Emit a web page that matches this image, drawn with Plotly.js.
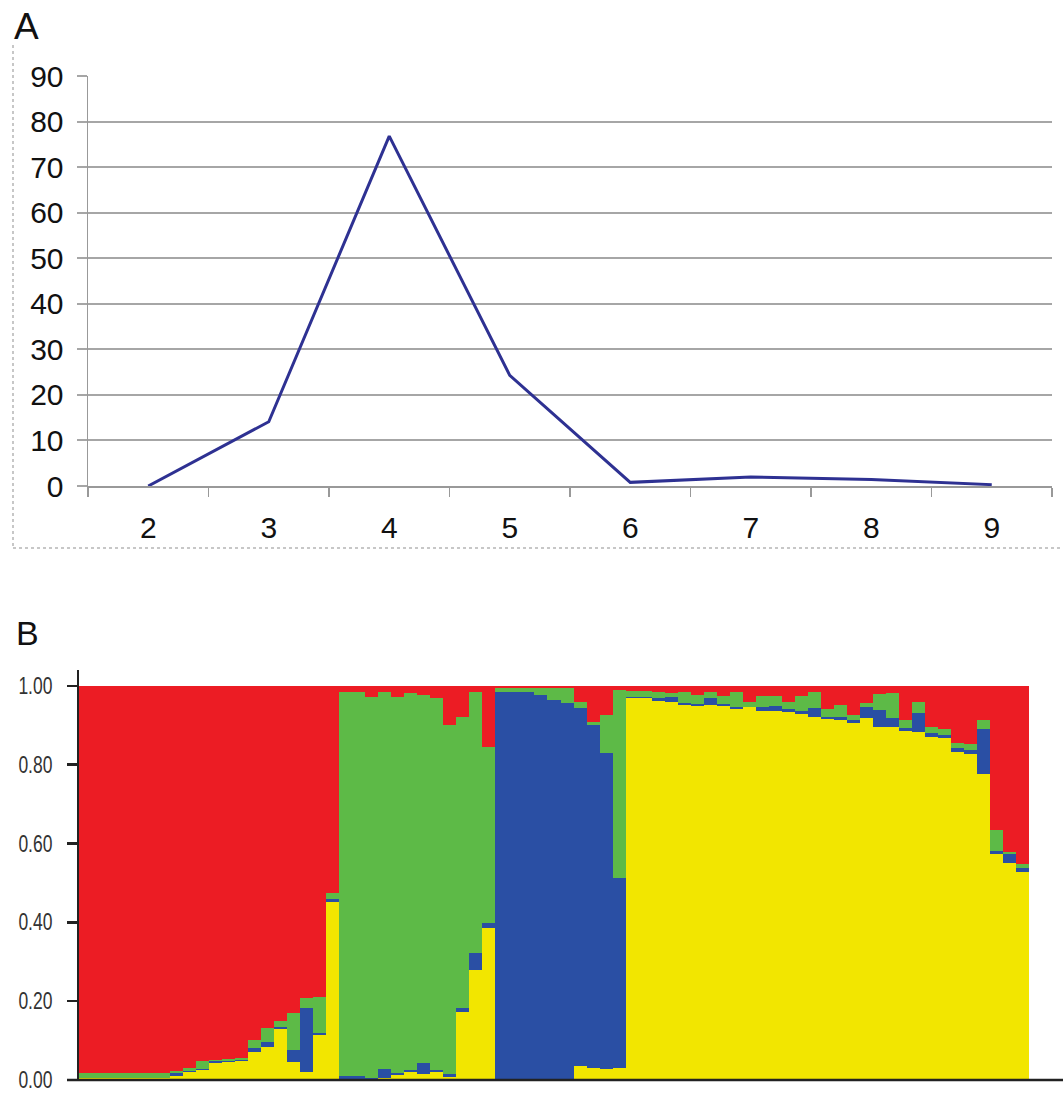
<!DOCTYPE html>
<html>
<head>
<meta charset="utf-8">
<script src="https://cdn.plot.ly/plotly-3.0.1.min.js"></script>
<style>html,body{margin:0;padding:0;background:#fff;}#chart{width:1063px;height:1093px;}</style>
</head>
<body>
<div id="chart"></div>
<script>
// ---- Panel A data ----
var kValues = ['2', '3', '4', '5', '6', '7', '8', '9'];
var deltaK = [0, 14.1, 76.8, 24.3, 0.8, 2.0, 1.4, 0.3];
var aYTicks = [0, 10, 20, 30, 40, 50, 60, 70, 80, 90];

// ---- Panel B data (membership proportions, one entry per individual) ----
var yellowQ = [0.006,0.006,0.006,0.006,0.006,0.006,0.006,0.010,0.020,0.025,0.043,0.046,0.048,0.071,0.084,0.130,0.046,0.020,0.114,0.452,
  0.003,0.003,0.003,0.006,0.012,0.020,0.015,0.020,0.008,0.173,0.280,0.386,
  0.000,0.000,0.000,0.000,0.000,0.000,0.035,0.030,0.028,0.030,
  0.970,0.970,0.962,0.959,0.952,0.949,0.952,0.949,0.942,0.945,0.937,0.937,0.934,0.929,0.921,0.916,0.914,0.906,0.919,0.896,0.896,0.886,0.883,0.871,0.868,0.833,0.827,0.777,0.574,0.551,0.528];
var blueQ = [0.000,0.000,0.000,0.000,0.000,0.000,0.000,0.008,0.004,0.002,0.006,0.003,0.003,0.010,0.013,0.005,0.030,0.163,0.005,0.006,
  0.008,0.008,0.002,0.023,0.005,0.006,0.027,0.006,0.006,0.010,0.043,0.013,
  0.985,0.985,0.983,0.977,0.964,0.957,0.909,0.870,0.802,0.483,
  0.002,0.002,0.006,0.013,0.005,0.005,0.018,0.006,0.005,0.002,0.008,0.012,0.006,0.006,0.022,0.006,0.006,0.008,0.028,0.043,0.023,0.006,0.048,0.008,0.008,0.008,0.010,0.114,0.008,0.022,0.010];
var greenQ = [0.012,0.012,0.012,0.012,0.012,0.012,0.012,0.004,0.006,0.020,0.002,0.005,0.005,0.020,0.035,0.015,0.094,0.025,0.092,0.017,
  0.974,0.974,0.967,0.956,0.955,0.956,0.935,0.942,0.886,0.738,0.662,0.446,
  0.010,0.010,0.012,0.018,0.031,0.038,0.016,0.007,0.096,0.477,
  0.015,0.015,0.016,0.010,0.028,0.023,0.013,0.018,0.038,0.013,0.028,0.025,0.020,0.040,0.040,0.018,0.030,0.012,0.010,0.040,0.063,0.020,0.028,0.016,0.014,0.015,0.015,0.023,0.053,0.005,0.010];
var redQ = [0.982,0.982,0.982,0.982,0.982,0.982,0.982,0.978,0.970,0.953,0.949,0.946,0.944,0.899,0.868,0.850,0.830,0.792,0.789,0.525,
  0.015,0.015,0.028,0.015,0.028,0.018,0.023,0.032,0.100,0.079,0.015,0.155,
  0.005,0.005,0.005,0.005,0.005,0.005,0.040,0.093,0.074,0.010,
  0.013,0.013,0.016,0.018,0.015,0.023,0.017,0.027,0.015,0.040,0.027,0.026,0.040,0.025,0.017,0.060,0.050,0.074,0.043,0.021,0.018,0.088,0.041,0.105,0.110,0.144,0.148,0.086,0.365,0.422,0.452];
var bYTicks = [0, 0.2, 0.4, 0.6, 0.8, 1.0];

var individuals = yellowQ.map(function (_, i) { return i; });

var W = 1063, H = 1093;
function px(x) { return x / W; }
function py(y) { return 1 - y / H; }

var traces = [
  {
    type: 'scatter', mode: 'lines', x: kValues, y: deltaK,
    xaxis: 'x', yaxis: 'y',
    line: { color: '#2E3192', width: 3 }, hoverinfo: 'skip', showlegend: false
  },
  { type: 'bar', x: individuals, y: yellowQ, xaxis: 'x2', yaxis: 'y2', marker: { color: '#F2E600', line: { width: 0 } }, showlegend: false },
  { type: 'bar', x: individuals, y: blueQ, xaxis: 'x2', yaxis: 'y2', marker: { color: '#2A4FA4', line: { width: 0 } }, showlegend: false },
  { type: 'bar', x: individuals, y: greenQ, xaxis: 'x2', yaxis: 'y2', marker: { color: '#5DBA47', line: { width: 0 } }, showlegend: false },
  { type: 'bar', x: individuals, y: redQ, xaxis: 'x2', yaxis: 'y2', marker: { color: '#EC1C24', line: { width: 0 } }, showlegend: false }
];

var tickFontA = { family: 'Liberation Sans, Arial, sans-serif', size: 30, color: '#111' };
var tickFontB = { family: 'Liberation Sans, Arial, sans-serif', size: 23, color: '#333' };

var layout = {
  width: W, height: H,
  margin: { l: 0, r: 0, t: 0, b: 0 },
  paper_bgcolor: '#ffffff', plot_bgcolor: 'rgba(0,0,0,0)',
  showlegend: false,
  barmode: 'stack', bargap: 0,
  xaxis: {
    type: 'category', domain: [px(88), px(1052)], anchor: 'y', range: [-0.5, 7.5],
    tickson: 'boundaries', ticks: 'outside', ticklen: 9, tickwidth: 1.5, tickcolor: '#999',
    showline: true, linecolor: '#999', linewidth: 2,
    showgrid: false, zeroline: false,
    tickfont: tickFontA, ticklabelstandoff: 14, fixedrange: true
  },
  yaxis: {
    domain: [py(486), py(76)], anchor: 'x', range: [0, 90],
    tickvals: aYTicks, ticktext: aYTicks.map(String),
    ticks: 'outside', ticklen: 10, tickwidth: 2, tickcolor: '#A6A6A6',
    showline: true, linecolor: '#999', linewidth: 1.5,
    showgrid: true, gridcolor: '#A6A6A6', gridwidth: 2, zeroline: false,
    tickfont: tickFontA, ticklabelstandoff: 7, fixedrange: true
  },
  xaxis2: {
    domain: [px(79), px(1029)], anchor: 'y2', range: [-0.5, 72.5],
    showticklabels: false, ticks: '', showline: false, showgrid: false, zeroline: false, fixedrange: true
  },
  yaxis2: {
    domain: [py(1080), py(670)], anchor: 'x2', range: [0, 1.04],
    tickvals: bYTicks, ticktext: bYTicks.map(function (v) { return v.toFixed(2); }),
    ticks: 'outside', ticklen: 10, tickwidth: 2.5, tickcolor: '#222',
    showline: true, linecolor: '#222', linewidth: 2,
    showgrid: false, zeroline: false, ticklabeloverflow: 'allow',
    tickfont: tickFontB, ticklabelstandoff: 10, fixedrange: true
  },
  shapes: [
    { type: 'line', xref: 'paper', yref: 'paper', x0: px(13), x1: px(13), y0: py(45), y1: py(548), line: { color: '#B5B5B5', width: 1.5, dash: 'dot' } },
    { type: 'line', xref: 'paper', yref: 'paper', x0: px(13), x1: px(1063), y0: py(548), y1: py(548), line: { color: '#B5B5B5', width: 1.5, dash: 'dot' } },
    { type: 'line', xref: 'paper', yref: 'paper', x0: px(67), x1: px(1063), y0: py(1080), y1: py(1080), line: { color: '#222', width: 2.5 } }
  ],
  annotations: [
    { text: 'A', xref: 'paper', yref: 'paper', x: px(12), y: py(4), xanchor: 'left', yanchor: 'top', showarrow: false,
      font: { family: 'Liberation Sans, Arial, sans-serif', size: 37, color: '#111' } },
    { text: 'B', xref: 'paper', yref: 'paper', x: px(14), y: py(612), xanchor: 'left', yanchor: 'top', showarrow: false,
      font: { family: 'Liberation Sans, Arial, sans-serif', size: 34, color: '#111' } }
  ]
};

Plotly.newPlot('chart', traces, layout, { displayModeBar: false, staticPlot: true }).then(function (gd) {
  // condense the panel B tick labels like the original narrow typeface
  var labels = gd.querySelectorAll('g.y2tick text');
  labels.forEach(function (t) {
    t.setAttribute('textLength', '34');
    t.setAttribute('lengthAdjust', 'spacingAndGlyphs');
  });
});
</script>
</body>
</html>
